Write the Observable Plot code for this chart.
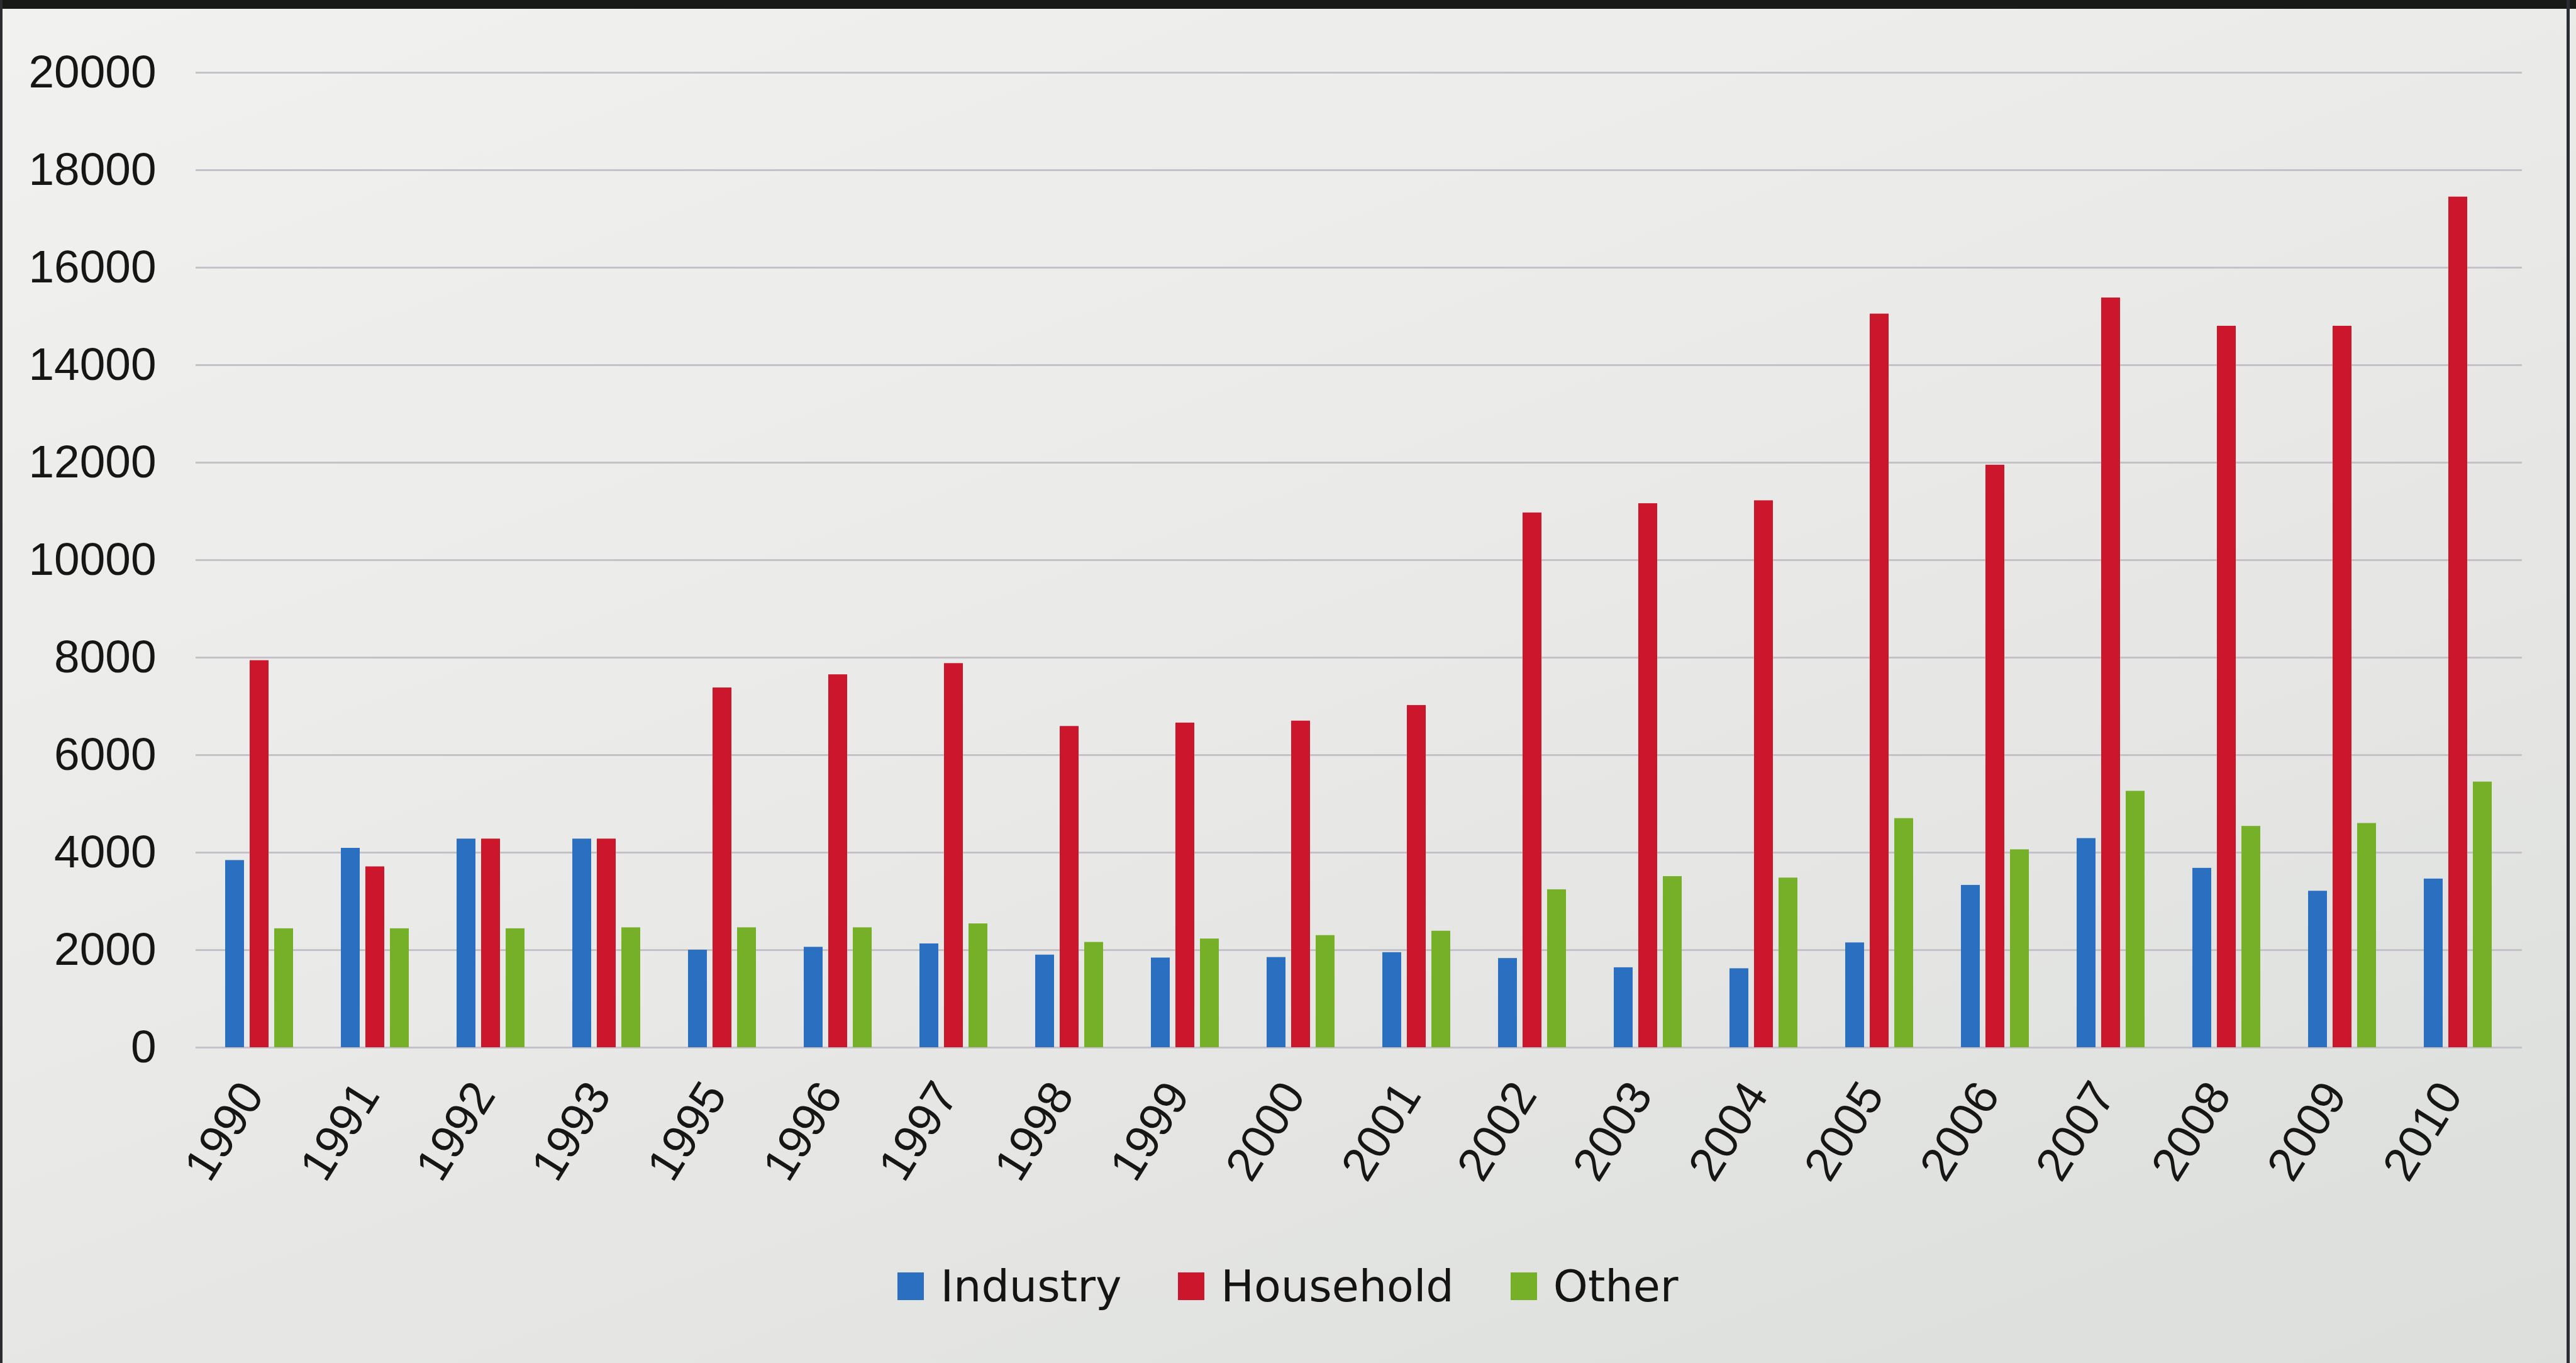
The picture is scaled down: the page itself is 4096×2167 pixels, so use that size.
<!DOCTYPE html>
<html>
<head>
<meta charset="utf-8">
<script src="https://cdn.jsdelivr.net/npm/d3@7"></script>
<script src="https://cdn.jsdelivr.net/npm/@observablehq/plot@0.6"></script>
<style>
  html, body { margin: 0; padding: 0; }
  body { width: 4096px; height: 2167px; overflow: hidden;
         background: linear-gradient(160deg, #f1f2ef 0%, #e9eae7 50%, #dcdedb 100%); }
  #wrap { position: relative; width: 4096px; height: 2167px; }
  #base, #bars { position: absolute; left: 0; top: 0; }
  #legend { position: absolute; left: 0; top: 1980px; width: 4096px; height: 130px;
            display: flex; justify-content: center; align-items: center;
            font-family: "DejaVu Sans", Verdana, sans-serif; font-size: 70px; color: #141414; }
  .item { display: flex; align-items: center; margin: 0 45px; }
  .sw { width: 42px; height: 44px; margin-right: 26px; }
  #topbar { position: absolute; left: 0; top: 0; width: 4096px; height: 14px; background: #181a18; }
  #leftbar { position: absolute; left: 0; top: 0; width: 4px; height: 2167px; background: #2a2c30; }
  #rightbar { position: absolute; left: 4081px; top: 0; width: 5px; height: 2167px; background: #2a2c34; }
</style>
</head>
<body>
<div id="wrap">
  <div id="base"></div>
  <div id="bars"></div>
  <div id="legend"></div>
  <div id="topbar"></div>
  <div id="leftbar"></div>
  <div id="rightbar"></div>
</div>
<script>
const years = ["1990","1991","1992","1993","1995","1996","1997","1998","1999","2000",
               "2001","2002","2003","2004","2005","2006","2007","2008","2009","2010"];
const industry  = [3840, 4090, 4280, 4280, 2000, 2060, 2130, 1900, 1840, 1850,
                   1950, 1830, 1640, 1620, 2150, 3330, 4290, 3680, 3210, 3460];
const household = [7940, 3710, 4280, 4280, 7380, 7650, 7880, 6590, 6660, 6700,
                   7020, 10970, 11160, 11220, 15050, 11950, 15380, 14800, 14800, 17450];
const other     = [2440, 2440, 2440, 2460, 2460, 2460, 2540, 2160, 2230, 2300,
                   2390, 3240, 3510, 3480, 4700, 4060, 5260, 4540, 4600, 5450];
const seriesNames = ["Industry", "Household", "Other"];
const seriesColors = ["#2b6fc0", "#cc162c", "#76af28"];
const yTicks = [0, 2000, 4000, 6000, 8000, 10000, 12000, 14000, 16000, 18000, 20000];

const seriesValues = [industry, household, other];
const data = years.flatMap((yr, i) =>
  seriesNames.map((s, k) => ({year: yr, series: s, value: seriesValues[k][i]})));

const W = 4096, H = 1980;
const common = {
  width: W, height: H,
  marginLeft: 311, marginRight: 86, marginTop: 115, marginBottom: 315
};

const base = Plot.plot({
  ...common,
  style: {background: "transparent", fontFamily: "'Liberation Sans', Arial, sans-serif",
          fontSize: "73px", color: "#161616", overflow: "visible"},
  x: {domain: years, paddingInner: 0.41, paddingOuter: 0.205, axis: null},
  y: {domain: [0, 20000], ticks: yTicks, tickSize: 0, tickPadding: 63,
      tickFormat: d3.format("d"), label: null},
  marks: [
    Plot.ruleY(yTicks, {stroke: "#c4c2c8", strokeWidth: 3}),
    Plot.text(years, {x: d => d, frameAnchor: "bottom", rotate: -58, dx: -36, dy: 146,
                      fontSize: 75, fill: "#161616"})
  ]
});
document.getElementById("base").appendChild(base);

const bars = Plot.plot({
  ...common,
  style: {background: "transparent", overflow: "visible"},
  fx: {domain: years, paddingInner: 0.41, paddingOuter: 0.205, axis: null, label: null},
  x: {domain: seriesNames, paddingInner: 0.223, paddingOuter: 0, axis: null},
  y: {domain: [0, 20000], axis: null},
  color: {domain: seriesNames, range: seriesColors},
  marks: [
    Plot.barY(data, {fx: "year", x: "series", y: "value", fill: "series"})
  ]
});
document.getElementById("bars").appendChild(bars);

const legend = document.getElementById("legend");
seriesNames.forEach((s, k) => {
  const item = document.createElement("div");
  item.className = "item";
  const sw = document.createElement("div");
  sw.className = "sw";
  sw.style.background = seriesColors[k];
  const label = document.createElement("span");
  label.textContent = s;
  item.appendChild(sw);
  item.appendChild(label);
  legend.appendChild(item);
});
</script>
</body>
</html>
